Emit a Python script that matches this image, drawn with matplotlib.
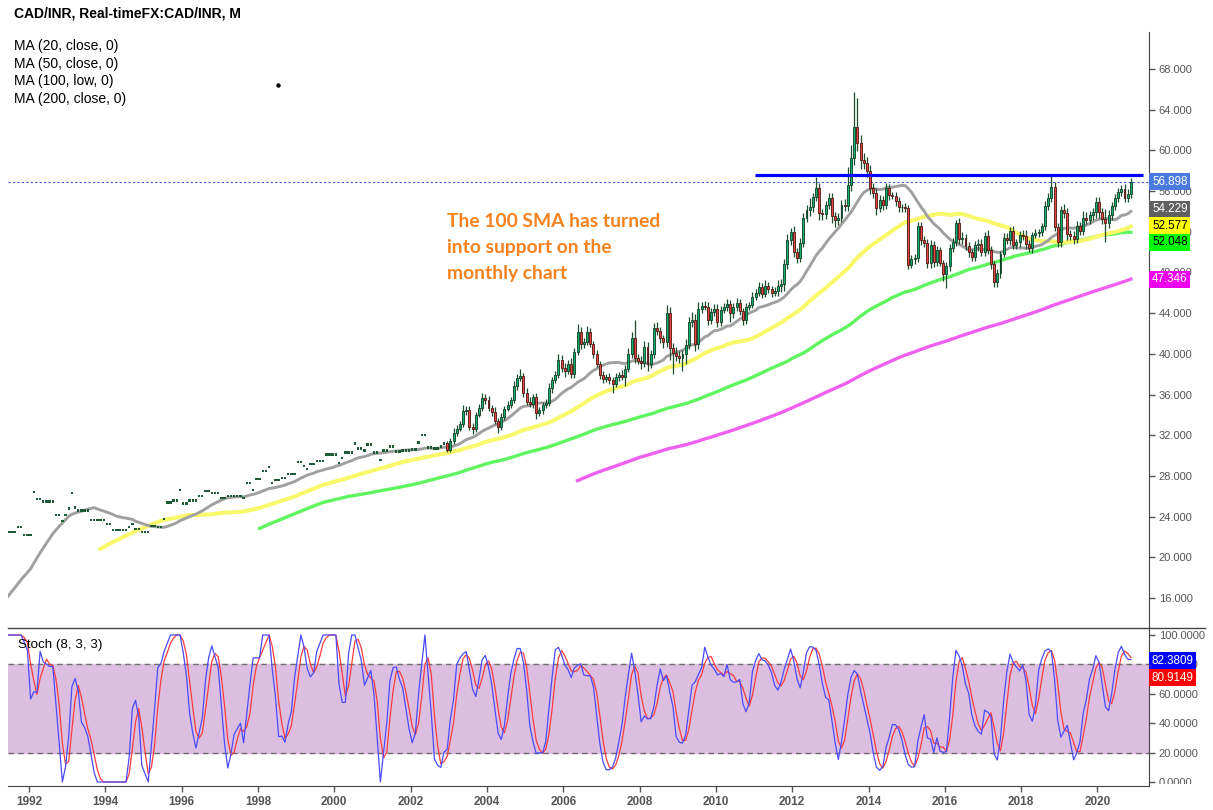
import numpy as np
import pandas as pd
import matplotlib
matplotlib.use("Agg")
import matplotlib.pyplot as plt
import matplotlib.transforms as mtransforms
from matplotlib.lines import Line2D
from matplotlib.patches import Rectangle

plt.rcParams['font.family'] = ['Liberation Sans', 'DejaVu Sans']

# --- monthly CAD/INR closes, first month is Oct 1989 ---
START_YEAR, START_MONTH = 1989, 10
close_1989 = [14.5, 14.6, 14.8]
close_1990 = [14.9, 15.0, 15.1, 15.0, 15.2, 15.3, 15.4, 15.6, 15.8, 16.0, 16.2, 16.3]
close_1991 = [16.8, 17.0, 17.3, 17.6, 18.0, 22.5, 22.5, 22.5, 23.0, 23.0, 22.2, 22.2]
close_1992 = [22.2, 26.4, 25.7, 25.7, 25.5, 25.5, 25.5, 25.5, 24.2, 24.2, 23.6, 24.2]
close_1993 = [24.8, 26.3, 24.9, 24.6, 24.6, 24.6, 24.6, 23.7, 23.7, 23.7, 23.7, 23.7]
close_1994 = [23.3, 23.3, 22.7, 22.7, 22.7, 22.7, 22.7, 23.0, 23.3, 22.8, 22.8, 22.5]
close_1995 = [22.5, 22.5, 23.1, 23.1, 23.0, 23.0, 23.8, 25.4, 25.4, 25.6, 25.6, 26.6]
close_1996 = [25.3, 25.3, 25.6, 25.6, 25.6, 26.0, 26.0, 26.5, 26.5, 26.3, 26.3, 26.3]
close_1997 = [25.8, 25.8, 26.0, 26.0, 26.0, 26.0, 26.0, 25.8, 27.3, 27.3, 26.6, 27.7]
close_1998 = [27.7, 28.5, 28.5, 28.9, 27.3, 27.6, 27.6, 27.8, 27.8, 28.2, 28.2, 28.2]
close_1999 = [29.4, 29.4, 29.0, 28.7, 29.2, 29.2, 29.5, 29.5, 29.5, 30.1, 30.1, 30.1]
close_2000 = [30.1, 29.3, 29.8, 30.3, 30.3, 30.3, 31.2, 30.7, 30.7, 30.5, 31.1, 31.1]
close_2001 = [30.3, 30.3, 29.6, 30.5, 30.5, 30.9, 30.9, 30.4, 30.4, 30.5, 30.5, 30.5]
close_2002 = [30.6, 30.6, 31.3, 32.0, 32.0, 30.8, 30.8, 30.7, 30.7, 30.9, 31.2, 30.6]
close_2003 = [31.4, 32.2, 32.6, 33.1, 34.4, 34.5, 32.8, 32.6, 34.0, 34.7, 35.7, 35.5]
close_2004 = [34.7, 34.3, 33.4, 32.8, 33.8, 34.6, 35.0, 35.5, 36.8, 37.6, 37.8, 36.2]
close_2005 = [35.3, 35.1, 35.8, 34.2, 34.5, 35.0, 35.2, 36.6, 37.4, 37.9, 39.4, 38.6]
close_2006 = [38.3, 39.0, 38.0, 40.2, 42.1, 41.0, 41.2, 42.1, 41.0, 40.0, 39.0, 37.9]
close_2007 = [37.5, 37.7, 37.4, 37.0, 37.7, 37.9, 37.7, 38.5, 40.0, 41.6, 39.6, 39.3]
close_2008 = [39.1, 40.7, 39.0, 40.0, 42.5, 42.2, 41.6, 41.2, 44.0, 40.6, 40.1, 39.8]
close_2009 = [39.6, 40.0, 40.9, 43.1, 43.3, 41.0, 44.4, 44.7, 44.6, 43.3, 44.1, 44.4]
close_2010 = [43.1, 44.3, 44.6, 44.9, 44.0, 44.6, 45.0, 44.2, 43.3, 44.6, 44.8, 45.6]
close_2011 = [46.0, 46.6, 45.9, 46.7, 46.4, 46.0, 46.2, 46.7, 46.9, 48.8, 51.2, 52.0]
close_2012 = [50.0, 49.4, 50.9, 53.4, 54.1, 54.4, 55.4, 56.3, 53.8, 53.7, 54.6, 55.3]
close_2013 = [53.5, 53.2, 53.4, 54.6, 54.5, 56.6, 59.2, 62.3, 60.7, 59.1, 58.8, 58.0]
close_2014 = [56.3, 55.8, 54.3, 55.1, 54.6, 56.3, 55.6, 55.5, 55.0, 54.4, 54.4, 54.3]
close_2015 = [48.7, 49.3, 49.4, 52.6, 51.2, 50.9, 48.9, 50.7, 49.0, 50.2, 48.9, 47.8]
close_2016 = [48.6, 50.4, 51.0, 52.9, 51.3, 51.4, 50.6, 50.0, 49.5, 50.7, 50.8, 50.0]
close_2017 = [51.6, 50.2, 48.8, 47.1, 47.9, 49.8, 51.4, 51.2, 52.1, 50.7, 51.0, 51.7]
close_2018 = [51.6, 50.8, 50.4, 51.7, 51.9, 52.0, 52.6, 54.5, 55.3, 56.4, 52.5, 51.0]
close_2019 = [54.1, 53.8, 51.8, 51.6, 51.3, 52.6, 52.1, 53.4, 53.2, 53.6, 53.9, 54.9]
close_2020 = [53.9, 53.3, 52.9, 53.6, 54.5, 55.3, 55.9, 56.2, 55.3, 55.7, 56.898]

# real candles (with open/high/low) start Dec 2002; before that only flat ticks
CANDLE_START = (2002, 12)
up_wick = ([0.2] +
    [0.3, 0.5, 0.4, 0.3, 0.6, 0.4, 0.4, 0.4, 0.3, 0.4, 0.5, 0.4] +
    [0.4, 0.3, 0.5, 0.3, 0.4, 0.3, 0.4, 0.3, 0.5, 0.4, 0.7, 0.3] +
    [0.4, 0.5, 0.3, 0.4, 0.3, 0.3, 0.4, 0.5, 0.3, 0.4, 0.6, 0.5] +
    [0.5, 0.4, 0.6, 0.4, 0.8, 0.5, 0.4, 0.6, 0.4, 0.3, 0.4, 0.3] +
    [0.4, 0.3, 0.4, 0.3, 0.4, 0.3, 0.5, 0.4, 0.6, 0.5, 1.7, 0.4] +
    [0.5, 0.6, 0.5, 0.4, 0.5, 0.6, 0.4, 0.3, 0.8, 0.6, 0.5, 0.6] +
    [0.5, 0.4, 0.6, 0.5, 0.8, 0.6, 0.7, 0.4, 0.5, 0.5, 0.4, 0.5] +
    [0.5, 0.4, 0.4, 0.5, 0.4, 0.4, 0.5, 0.4, 0.3, 0.4, 0.3, 0.5] +
    [0.4, 0.5, 0.4, 0.6, 0.4, 0.3, 0.4, 0.6, 0.5, 0.5, 0.6, 0.4] +
    [0.6, 0.4, 0.5, 0.4, 0.5, 0.9, 0.4, 1.1, 0.5, 0.4, 0.4, 0.5] +
    [0.5, 0.4, 0.4, 0.5, 0.6, 1.8, 1.3, 3.4, 2.8, 0.8, 0.6, 0.5] +
    [0.6, 0.5, 0.5, 0.5, 0.4, 0.5, 0.4, 0.3, 0.4, 0.4, 0.3, 0.4] +
    [0.3, 0.4, 0.4, 0.4, 0.4, 0.4, 0.4, 0.5, 0.4, 0.4, 0.3, 0.3] +
    [0.4, 0.4, 0.4, 0.3, 0.5, 0.6, 0.4, 0.4, 0.3, 0.4, 0.5, 0.5] +
    [0.4, 0.6, 0.4, 0.3, 0.4, 0.3, 0.5, 0.5, 0.4, 0.5, 0.3, 0.4] +
    [0.5, 0.6, 0.4, 0.3, 0.4, 0.3, 0.3, 0.5, 0.5, 1.2, 0.5, 0.4] +
    [0.4, 0.6, 0.5, 0.4, 0.5, 0.5, 0.4, 0.6, 0.5, 0.4, 0.4, 0.5] +
    [0.5, 0.4, 0.9, 0.5, 0.4, 0.4, 0.4, 0.4, 0.5, 0.5, 0.4])
low_wick = ([0.2] +
    [0.2, 0.3, 0.3, 0.2, 0.3, 0.4, 0.3, 0.5, 0.3, 0.2, 0.3, 0.4] +
    [0.3, 0.4, 0.3, 0.6, 0.3, 0.3, 0.2, 0.3, 0.3, 0.4, 0.3, 0.4] +
    [0.3, 0.3, 0.4, 0.6, 0.3, 0.4, 0.3, 0.3, 0.4, 0.3, 0.3, 0.4] +
    [0.6, 0.3, 0.4, 0.4, 0.3, 0.5, 0.4, 0.3, 0.3, 0.4, 0.3, 0.4] +
    [0.4, 0.3, 0.4, 0.8, 0.3, 0.4, 0.3, 0.9, 0.3, 0.4, 0.5, 0.3] +
    [0.6, 0.4, 0.7, 0.4, 0.4, 0.3, 0.5, 0.6, 0.5, 1.2, 2.1, 0.5] +
    [0.5, 1.3, 1.0, 0.4, 0.5, 0.7, 0.5, 0.4, 0.3, 0.5, 0.4, 0.4] +
    [0.5, 0.4, 0.3, 0.4, 0.9, 0.5, 0.4, 0.4, 0.5, 0.4, 0.3, 0.3] +
    [0.3, 0.3, 0.4, 0.3, 0.4, 0.4, 0.3, 0.5, 0.6, 0.7, 0.5, 0.5] +
    [0.5, 0.5, 0.4, 0.4, 0.4, 0.6, 0.5, 0.4, 0.6, 0.5, 0.4, 0.4] +
    [0.6, 0.7, 0.5, 0.4, 0.5, 0.5, 0.6, 0.6, 0.8, 0.9, 0.6, 0.6] +
    [0.6, 0.5, 0.7, 0.4, 0.5, 0.4, 0.5, 0.3, 0.5, 0.5, 0.5, 0.4] +
    [0.4, 0.3, 0.5, 0.4, 0.5, 0.4, 0.5, 0.5, 0.5, 0.4, 0.3, 0.6] +
    [1.3, 0.5, 0.4, 0.4, 0.5, 0.5, 0.4, 0.5, 0.4, 0.4, 0.6, 0.4] +
    [0.4, 0.4, 0.5, 0.5, 0.5, 0.4, 0.3, 0.4, 0.5, 0.4, 0.4, 0.5] +
    [0.4, 0.5, 0.4, 0.5, 0.3, 0.4, 0.4, 0.4, 0.4, 0.4, 0.4, 0.5] +
    [0.5, 0.4, 0.6, 0.4, 0.5, 0.4, 0.4, 0.4, 0.4, 0.4, 0.4, 0.5] +
    [0.5, 0.5, 1.9, 0.5, 0.4, 0.4, 0.4, 0.4, 0.4, 0.4, 0.4])

ma_labels = ["MA (20, close, 0)", "MA (50, close, 0)", "MA (100, low, 0)", "MA (200, close, 0)"]
tag_values = ["56.898", "54.229", "52.577", "52.048", "47.346"]
stoch_tag_values = ["82.3809", "80.9149"]
resistance_level = 57.57
resistance_from = 2011.03
stray_dot = (1998.53, 66.4)
note = "The 100 SMA has turned\ninto support on the\nmonthly chart"

# --- build the series ---
closes = np.array(close_1989 + close_1990 + close_1991 + close_1992 + close_1993 + close_1994 +
                  close_1995 + close_1996 + close_1997 + close_1998 + close_1999 + close_2000 +
                  close_2001 + close_2002 + close_2003 + close_2004 + close_2005 + close_2006 +
                  close_2007 + close_2008 + close_2009 + close_2010 + close_2011 + close_2012 +
                  close_2013 + close_2014 + close_2015 + close_2016 + close_2017 + close_2018 +
                  close_2019 + close_2020)
n = len(closes)
m0 = (START_YEAR - 1991) * 12 + (START_MONTH - 1)
months = np.arange(n) + m0
dates = 1991 + (months + 0.5) / 12.0
k0 = (CANDLE_START[0] - 1991) * 12 + CANDLE_START[1] - 1 - m0

opens = closes.copy()
highs = closes.copy()
lows = closes.copy()
opens[k0:] = closes[k0 - 1:-1]
highs[k0:] = np.maximum(opens[k0:], closes[k0:]) + np.array(up_wick)
lows[k0:] = np.minimum(opens[k0:], closes[k0:]) - np.array(low_wick)

cs = pd.Series(closes)
ma20 = cs.rolling(20).mean()
ma50 = cs.rolling(50).mean()
ma100 = pd.Series(lows).rolling(100).mean()
ma200 = cs.rolling(200).mean()

hh = pd.Series(highs).rolling(8).max()
ll = pd.Series(lows).rolling(8).min()
raw_k = 100 * (cs - ll) / (hh - ll).replace(0, np.nan)
stoch_k = raw_k.rolling(3).mean()
stoch_d = stoch_k.rolling(3).mean()

# --- figure ---
W, H = 1213, 810
fig = plt.figure(figsize=(W / 100, H / 100), dpi=100)
ax = fig.add_axes([8 / W, 1 - 628 / H, 1141 / W, 596 / H])
ax2 = fig.add_axes([8 / W, 1 - 786 / H, 1141 / W, 158 / H], sharex=ax)

ax.set_xlim(1991.45, 2021.35)
ax.set_ylim(13.06, 71.63)
ax2.set_ylim(-2.72, 104.76)

# moving averages
ax.plot(dates, ma200, color='#f060f0', lw=2.4, zorder=2)
ax.plot(dates, ma100, color='#5ef55e', lw=2.4, zorder=2)
ax.plot(dates, ma50, color='#f8f86a', lw=2.9, zorder=2)
ax.plot(dates, ma20, color='#a0a0a0', lw=2.1, zorder=2)

# flat ticks of the early data
ax.bar(dates[:k0], 0.22, bottom=closes[:k0] - 0.11, width=0.75 / 12,
       color='#1f5a37', zorder=3)

# candles
cd = dates[k0:]
o, c, hi, lo = opens[k0:], closes[k0:], highs[k0:], lows[k0:]
up = c >= o
ax.vlines(cd, lo, hi, color='#1e4d2b', lw=0.9, zorder=3)
body = np.maximum(np.abs(c - o), 0.08)
ax.bar(cd[up], body[up], bottom=np.minimum(o, c)[up], width=0.62 / 12,
       color='#13b06e', edgecolor='#0d3b24', linewidth=0.6, zorder=4)
ax.bar(cd[~up], body[~up], bottom=np.minimum(o, c)[~up], width=0.62 / 12,
       color='#e8463f', edgecolor='#4a1512', linewidth=0.6, zorder=4)

# resistance line and last price line
ax.hlines(resistance_level, resistance_from, 2021.2, color='#0000ff', lw=2.3, zorder=5)
ax.axhline(closes[-1], color='#3a5ad8', lw=0.8, ls=(0, (2, 2)), zorder=1)
ax.plot(*stray_dot, marker='o', ms=2.2, color='black')

ax.text(2002.95, 53.8, note, color='#f5821f', fontsize=13.9, fontweight='bold',
        family=['Lato', 'DejaVu Sans'], va='top', ha='left', linespacing=1.62)

# stochastic
ax2.axhspan(20, 80, color='#dcbfe0', zorder=0)
for lvl in (20, 80):
    ax2.axhline(lvl, color='#6e6e6e', lw=1.0, ls=(0, (4, 3)), zorder=1)
ax2.plot(dates, stoch_d, color='#ff3b3b', lw=0.9, zorder=3)
ax2.plot(dates, stoch_k, color='#4a4aff', lw=0.9, zorder=3)

# axes styling
for a in (ax, ax2):
    for s in ('left', 'top'):
        a.spines[s].set_visible(False)
    a.spines['right'].set_color('#444444')
    a.yaxis.tick_right()
    a.tick_params(axis='y', colors='#555555', labelsize=8, length=4, width=1, pad=3)
ax.spines['bottom'].set_visible(False)
ax2.spines['bottom'].set_color('#444444')
ax.tick_params(axis='x', bottom=False, labelbottom=False)

ax.set_yticks(np.arange(16, 69, 4))
ax.yaxis.set_major_formatter(matplotlib.ticker.FormatStrFormatter('%.3f'))
ax2.set_yticks(np.arange(0, 101, 20))
ax2.yaxis.set_major_formatter(matplotlib.ticker.FormatStrFormatter('%.4f'))
ax2.set_xticks(np.arange(1992, 2021, 2))
ax2.tick_params(axis='x', colors='#555555', labelsize=8.5, length=4, width=1, pad=3)
for lab in ax2.get_xticklabels():
    lab.set_fontweight('bold')

# the lowest stoch label is cut by the panel bottom
clip = Rectangle((1149 / W, 1 - 784 / H), 64 / W, 156 / H, transform=fig.transFigure)
for tick in ax2.yaxis.get_major_ticks()[:1]:
    tick.label2.set_clip_on(True)
    tick.label2.set_clip_path(clip)

fig.add_artist(Line2D([8 / W, 1205 / W], [1 - 628 / H] * 2, transform=fig.transFigure,
                      color='#444444', lw=1.0))

# texts
fig.text(14 / W, 1 - 14 / H, "CAD/INR, Real-timeFX:CAD/INR, M", fontsize=10,
         fontweight='bold', va='center', ha='left')
for i, s in enumerate(ma_labels):
    fig.text(14 / W, 1 - (46 + 17.7 * i) / H, s, fontsize=10, va='center', ha='left')
fig.text(18 / W, 1 - 645 / H, "Stoch (8, 3, 3)", fontsize=9.6, va='center', ha='left')


def price_tag(axis, value, text, face, fg, shift=0):
    trans = mtransforms.blended_transform_factory(axis.transAxes, axis.transData)
    axis.annotate(text, xy=(1, value), xycoords=trans, xytext=(3, shift),
                  textcoords='offset pixels', ha='left', va='center', fontsize=8.4,
                  color=fg, annotation_clip=False, zorder=10,
                  bbox=dict(boxstyle='square,pad=0.22', fc=face, ec='none'))


tag_colors = [('#4a7ae0', 'white', 0), ('#606060', 'white', 0), ('#ffff00', 'black', 0),
              ('#00ff00', 'black', -11), ('#ee00ee', 'white', 0)]
for txt, (fc, fg, sh) in zip(tag_values, tag_colors):
    price_tag(ax, float(txt), txt, fc, fg, sh)
price_tag(ax2, float(stoch_tag_values[0]), stoch_tag_values[0], '#0000ff', 'white')
price_tag(ax2, float(stoch_tag_values[0]), stoch_tag_values[1], '#ff0000', 'white', -17)

fig.savefig("out.png", dpi=100)
